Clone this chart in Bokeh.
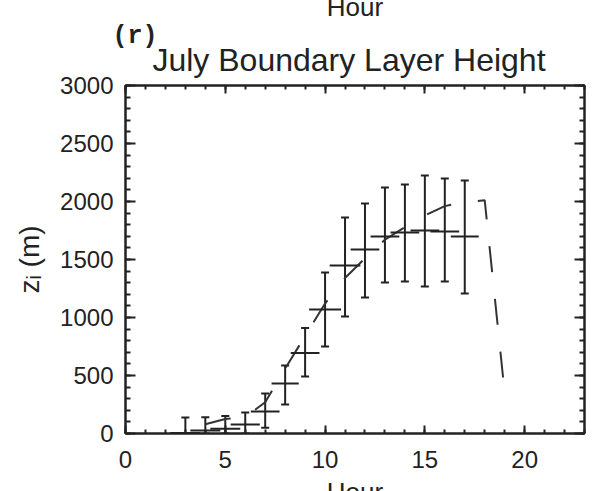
from bokeh.plotting import figure
from bokeh.models import (ColumnDataSource, Whisker, TeeHead, LinearAxis,
                          SingleIntervalTicker, Range1d, Label)
from bokeh.embed import file_html
from bokeh.resources import INLINE

# ---- data ----
obs_hour = [3, 4, 5, 6, 7, 8, 9, 10, 11, 12, 13, 14, 15, 16, 17]
obs_mean = [5, 25, 40, 78, 190, 431, 695, 1069, 1448, 1586, 1698, 1733, 1750, 1741, 1698]
obs_upper = [138, 140, 150, 180, 345, 586, 910, 1388, 1862, 1983, 2121, 2147, 2224, 2198, 2181]
obs_lower = [0, 0, 0, 0, 50, 250, 491, 750, 1009, 1172, 1302, 1310, 1267, 1310, 1207]
obs_hour_err = [0.75, 0.75, 0.75, 0.73, 0.72, 0.68, 0.72, 0.8, 0.77, 0.72, 0.72, 0.72, 0.72, 0.72, 0.7]

model_hour = [4, 5, 6, 7, 8, 9, 10, 11, 12, 13, 14, 15, 16, 17, 18, 19]
model_zi = [80, 125, 140, 270, 560, 840, 1120, 1340, 1510, 1670, 1780, 1880, 1960, 1995, 2010, 350]

title_text = "July Boundary Layer Height"
panel_tag = "(r)"
x_label = "Hour"
y_label = "z\u1d62 (m)"

INK = "#222222"
FONT = "Liberation Sans"

src = ColumnDataSource(dict(
    h=obs_hour, m=obs_mean, up=obs_upper, lo=obs_lower,
    h0=[a - e for a, e in zip(obs_hour, obs_hour_err)],
    h1=[a + e for a, e in zip(obs_hour, obs_hour_err)],
))

p = figure(frame_width=459, frame_height=348,
           min_border_left=125, min_border_right=14, min_border_top=85, min_border_bottom=58,
           x_range=Range1d(0, 23), y_range=Range1d(0, 3000),
           output_backend="svg", toolbar_location=None, x_axis_location=None,
           y_axis_location=None)
p.xgrid.visible = False
p.ygrid.visible = False
p.outline_line_color = INK
p.outline_line_width = 2
p.background_fill_color = "white"
p.border_fill_color = "white"

def style(ax, labels, major_in, minor_in):
    ax.major_tick_in = major_in
    ax.major_tick_out = 0
    ax.minor_tick_in = minor_in
    ax.minor_tick_out = 0
    ax.axis_line_color = INK
    ax.axis_line_width = 2
    ax.major_tick_line_color = INK
    ax.major_tick_line_width = 2
    ax.minor_tick_line_color = INK
    ax.minor_tick_line_width = 2
    if labels:
        ax.major_label_text_font = FONT
        ax.major_label_text_font_size = "24px"
        ax.major_label_text_color = INK
    else:
        ax.major_label_text_font_size = "0px"
        ax.major_label_standoff = 0

xb = LinearAxis(ticker=SingleIntervalTicker(interval=5, num_minor_ticks=5))
style(xb, True, 8, 4)
xb.major_label_standoff = 17
p.add_layout(xb, "below")
xt = LinearAxis(ticker=SingleIntervalTicker(interval=5, num_minor_ticks=5))
style(xt, False, 8, 4)
p.add_layout(xt, "above")

yl = LinearAxis(ticker=SingleIntervalTicker(interval=500, num_minor_ticks=5))
style(yl, True, 10, 5)
yl.major_label_standoff = 12
yl.axis_label = y_label
yl.axis_label_text_font = FONT
yl.axis_label_text_font_style = "normal"
yl.axis_label_text_font_size = "28px"
yl.axis_label_text_color = INK
yl.axis_label_standoff = 12
p.add_layout(yl, "left")
yr = LinearAxis(ticker=SingleIntervalTicker(interval=500, num_minor_ticks=5))
style(yr, False, 10, 5)
p.add_layout(yr, "right")

# model (dashed)
p.line(model_hour, model_zi, line_color="#333333", line_width=2, line_dash="26 27")

# observations: crosses with error bars
p.segment(x0="h0", x1="h1", y0="m", y1="m", source=src, line_color=INK, line_width=2)
p.add_layout(Whisker(source=src, base="h", upper="up", lower="lo",
                     line_color=INK, line_width=2,
                     upper_head=TeeHead(size=8, line_color=INK, line_width=2),
                     lower_head=TeeHead(size=8, line_color=INK, line_width=2)))

# texts placed in the side panels (data units, so they follow the frame scales)
def add_text(x, y, text, size, place, font=FONT, align="left", style_="normal"):
    p.add_layout(Label(x=x, y=y, text=text,
                       text_align=align, text_baseline="alphabetic",
                       text_font=font, text_font_size=size, text_font_style=style_,
                       text_color=INK), place)

add_text(1.35, 3216, title_text, "32px", "above")
add_text(-0.65, 3422, panel_tag, "25px", "above", font="Liberation Mono", style_="bold")
add_text(11.5, 3681, x_label, "26px", "below", align="center")
add_text(11.5, -500, x_label, "26px", "below", align="center")

open("out.html", "w").write(file_html(p, INLINE))
